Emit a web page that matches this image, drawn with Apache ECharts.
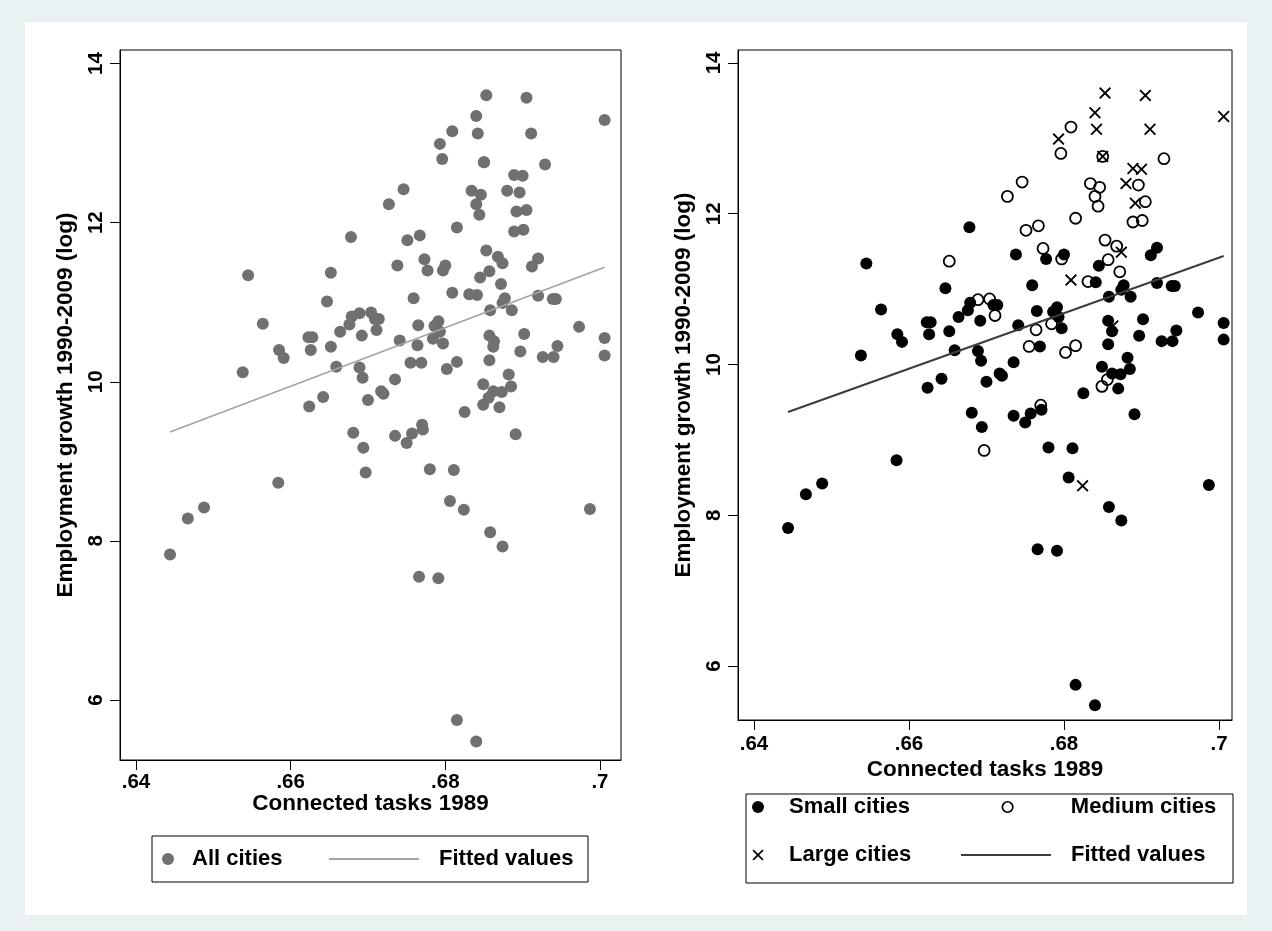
<!DOCTYPE html>
<html>
<head>
<meta charset="utf-8">
<script src="https://cdn.jsdelivr.net/npm/echarts@6/dist/echarts.min.js"></script>
<style>
html,body{margin:0;padding:0;background:#EAF1F3;}
#chart{width:1272px;height:931px;}
</style>
</head>
<body>
<div id="chart"></div>
<script>
// ---- data ----
const smallX = [.6444,.6467,.6488,.6538,.6545,.6564,.6584,.6585,.6591,.6623,.6628,.6626,.6624,.6642,.6647,.6652,.6659,.6664,.6676,.6679,.6678,.6681,.6692,.6709,.6714,.6738,.6777,.6800,.6845,.6841,.6759,.6765,.6791,.6786,.6793,.6797,.6741,.6769,.6689,.6693,.6735,.6717,.6720,.6700,.6849,.6825,.6735,.6757,.6771,.6694,.6750,.6891,.6780,.6811,.6806,.6858,.6874,.6987,.6766,.6791,.6815,.6840,.6920,.6912,.6877,.6874,.6886,.6858,.6920,.6939,.6943,.6857,.6862,.6902,.6897,.6973,.7006,.7006,.6945,.6926,.6940,.6857,.6882,.6862,.6873,.6885,.6870];
const smallY = [7.83,8.28,8.42,10.12,11.34,10.73,8.73,10.40,10.30,10.56,10.56,10.40,9.69,9.81,11.01,10.44,10.19,10.63,10.72,10.82,11.82,9.36,10.58,10.79,10.79,11.46,11.40,11.46,11.31,11.09,11.05,10.71,10.76,10.70,10.63,10.48,10.52,10.24,10.18,10.05,10.03,9.88,9.85,9.77,9.97,9.62,9.32,9.35,9.40,9.17,9.23,9.34,8.90,8.89,8.50,8.11,7.93,8.40,7.55,7.53,5.75,5.48,11.55,11.45,11.05,10.99,10.90,10.90,11.08,11.04,11.04,10.58,10.44,10.60,10.38,10.69,10.55,10.33,10.45,10.31,10.31,10.27,10.09,9.88,9.87,9.94,9.68];
const mediumX = [.6652,.6751,.6767,.6815,.6773,.6797,.6831,.6689,.6704,.6711,.6784,.6764,.6755,.6802,.6815,.6849,.6856,.6770,.6697,.6809,.6796,.6746,.6727,.6834,.6846,.6840,.6844,.6850,.6929,.6896,.6905,.6889,.6901,.6853,.6868,.6857,.6872];
const mediumY = [11.37,11.78,11.84,11.94,11.54,11.40,11.10,10.86,10.87,10.65,10.54,10.46,10.24,10.16,10.25,9.71,9.80,9.46,8.86,13.15,12.80,12.42,12.23,12.40,12.35,12.23,12.10,12.76,12.73,12.38,12.16,11.89,11.91,11.65,11.57,11.39,11.23];
const largeX = [.6853,.6905,.6840,.6842,.6911,.7006,.6850,.6889,.6900,.6880,.6892,.6793,.6874,.6809,.6824,.6863];
const largeY = [13.60,13.57,13.34,13.12,13.12,13.29,12.76,12.60,12.59,12.40,12.14,12.99,11.49,11.12,8.39,10.51];
const fitX = [0.6444, 0.7006];
const fitY = [9.37, 11.44];
const xTicks = [0.64, 0.66, 0.68, 0.70];
const xTickLabels = ['.64', '.66', '.68', '.7'];
const yTicks = [6, 8, 10, 12, 14];
const xTitle = 'Connected tasks 1989';
const yTitle = 'Employment growth 1990-2009 (log)';

// ---- build ----
const pairs = (xs, ys) => xs.map((x, i) => [x, ys[i]]);
const small = pairs(smallX, smallY);
const medium = pairs(mediumX, mediumY);
const large = pairs(largeX, largeY);
const all = small.concat(medium, large);
const fit = pairs(fitX, fitY);

const FONT = 'Arial, "Liberation Sans", Helvetica, sans-serif';
const WEIGHT = 'bold';
const XPATH = 'path://M0,1.1L1.1,0L5,3.9L8.9,0L10,1.1L6.1,5L10,8.9L8.9,10L5,6.1L1.1,10L0,8.9L3.9,5Z';
const xFmt = v => { const i = xTicks.findIndex(t => Math.abs(t - v) < 1e-9); return i >= 0 ? xTickLabels[i] : ''; };

function xAx(grid, min, max, margin, nameGap) {
  return {
    gridIndex: grid, type: 'value', min: min, max: max,
    axisLine: { show: true, onZero: false, lineStyle: { color: '#000', width: 1 } },
    axisTick: { show: true, customValues: xTicks, length: 10, lineStyle: { color: '#000', width: 1 } },
    axisLabel: { customValues: xTicks, formatter: xFmt, fontSize: 20.5, fontWeight: WEIGHT, color: '#000', fontFamily: FONT, margin: margin },
    splitLine: { show: false },
    name: xTitle, nameLocation: 'middle', nameGap: nameGap, nameMoveOverlap: false,
    nameTextStyle: { fontSize: 22.5, fontWeight: WEIGHT, color: '#000', fontFamily: FONT }
  };
}
function yAx(grid, min, max) {
  return {
    gridIndex: grid, type: 'value', min: min, max: max,
    axisLine: { show: true, onZero: false, lineStyle: { color: '#000', width: 1 } },
    axisTick: { show: true, customValues: yTicks, length: 10, lineStyle: { color: '#000', width: 1 } },
    axisLabel: { customValues: yTicks, rotate: 90, fontSize: 20.5, fontWeight: WEIGHT, color: '#000', fontFamily: FONT, margin: 13 },
    splitLine: { show: false },
    name: yTitle, nameLocation: 'middle', nameRotate: 90, nameGap: 43, nameMoveOverlap: false,
    nameTextStyle: { fontSize: 22.5, fontWeight: WEIGHT, color: '#000', fontFamily: FONT }
  };
}
const HIDE_SYM = { color: 'rgba(0,0,0,0)', borderColor: 'rgba(0,0,0,0)', borderWidth: 0 };
function lg(name, left, top, w, h, pad, extra) {
  return Object.assign({
    data: [name], left: left, top: top, itemWidth: w, itemHeight: h, padding: 0,
    selectedMode: false, orient: 'horizontal', z: 10,
    textStyle: { fontSize: 22, fontWeight: WEIGHT, color: '#000', fontFamily: FONT, lineHeight: 24, padding: [0, 0, 0, pad] }
  }, extra || {});
}

const chart = echarts.init(document.getElementById('chart'), null, { renderer: 'canvas' });
chart.setOption({
  animation: false,
  backgroundColor: '#EAF1F3',
  textStyle: { fontFamily: FONT },
  graphic: [
    { type: 'rect', z: -10, silent: true, shape: { x: 25, y: 22, width: 1222, height: 893 }, style: { fill: '#fff' } },
    { type: 'rect', z: 1, silent: true, shape: { x: 152, y: 836, width: 436, height: 46 }, style: { fill: '#fff', stroke: '#000', lineWidth: 1 } },
    { type: 'rect', z: 1, silent: true, shape: { x: 746, y: 794, width: 487, height: 89 }, style: { fill: '#fff', stroke: '#000', lineWidth: 1 } }
  ],
  grid: [
    { left: 120, top: 50, width: 501, height: 710, show: true, borderColor: '#000', borderWidth: 1, backgroundColor: 'transparent', containLabel: false, outerBoundsMode: 'none' },
    { left: 738, top: 50, width: 494, height: 670, show: true, borderColor: '#000', borderWidth: 1, backgroundColor: 'transparent', containLabel: false, outerBoundsMode: 'none' }
  ],
  xAxis: [xAx(0, 0.63793, 0.70272, 12, 32), xAx(1, 0.63794, 0.70168, 14, 38)],
  yAxis: [yAx(0, 5.246, 14.17), yAx(1, 5.284, 14.172)],
  legend: [
    lg('All cities', 162, 847, 12, 12, 13),
    lg('Fitted values (all)', 328, 847, 90, 14, 15, { data: [{ name: 'Fitted values (all)', itemStyle: HIDE_SYM }], formatter: () => 'Fitted values' }),
    lg('Small cities', 752, 795, 12, 12, 20),
    lg('Medium cities', 1001.5, 795, 10.5, 10.5, 53, { data: [{ name: 'Medium cities', itemStyle: { color: 'rgba(0,0,0,0)', borderColor: '#000', borderWidth: 1.7 } }] }),
    lg('Large cities', 752.5, 843, 11, 11, 20.5, { data: [{ name: 'Large cities', icon: XPATH }] }),
    lg('Fitted values (size)', 960, 843, 90, 14, 15, { data: [{ name: 'Fitted values (size)', itemStyle: HIDE_SYM }], formatter: () => 'Fitted values' })
  ],
  series: [
    { name: 'All cities', type: 'scatter', xAxisIndex: 0, yAxisIndex: 0, data: all, symbol: 'circle', symbolSize: 12, itemStyle: { color: '#707070', opacity: 1 }, clip: false, silent: true },
    { name: 'Fitted values (all)', type: 'line', xAxisIndex: 0, yAxisIndex: 0, data: fit, symbol: 'none', z: 3, itemStyle: { color: '#a3a3a3' }, lineStyle: { color: '#a3a3a3', width: 1.6 }, silent: true },
    { name: 'Small cities', type: 'scatter', xAxisIndex: 1, yAxisIndex: 1, data: small, symbol: 'circle', symbolSize: 12, itemStyle: { color: '#000', opacity: 1 }, clip: false, silent: true },
    { name: 'Medium cities', type: 'scatter', xAxisIndex: 1, yAxisIndex: 1, data: medium, symbol: 'circle', symbolSize: 11, itemStyle: { color: 'rgba(0,0,0,0)', borderColor: '#000', borderWidth: 1.8, opacity: 1 }, clip: false, silent: true },
    { name: 'Large cities', type: 'scatter', xAxisIndex: 1, yAxisIndex: 1, data: large, symbol: XPATH, symbolKeepAspect: true, symbolSize: 12, itemStyle: { color: '#000', opacity: 1 }, clip: false, silent: true },
    { name: 'Fitted values (size)', type: 'line', xAxisIndex: 1, yAxisIndex: 1, data: fit, symbol: 'none', z: 3, itemStyle: { color: '#3c3c3c' }, lineStyle: { color: '#3c3c3c', width: 2 }, silent: true }
  ]
});
</script>
</body>
</html>
